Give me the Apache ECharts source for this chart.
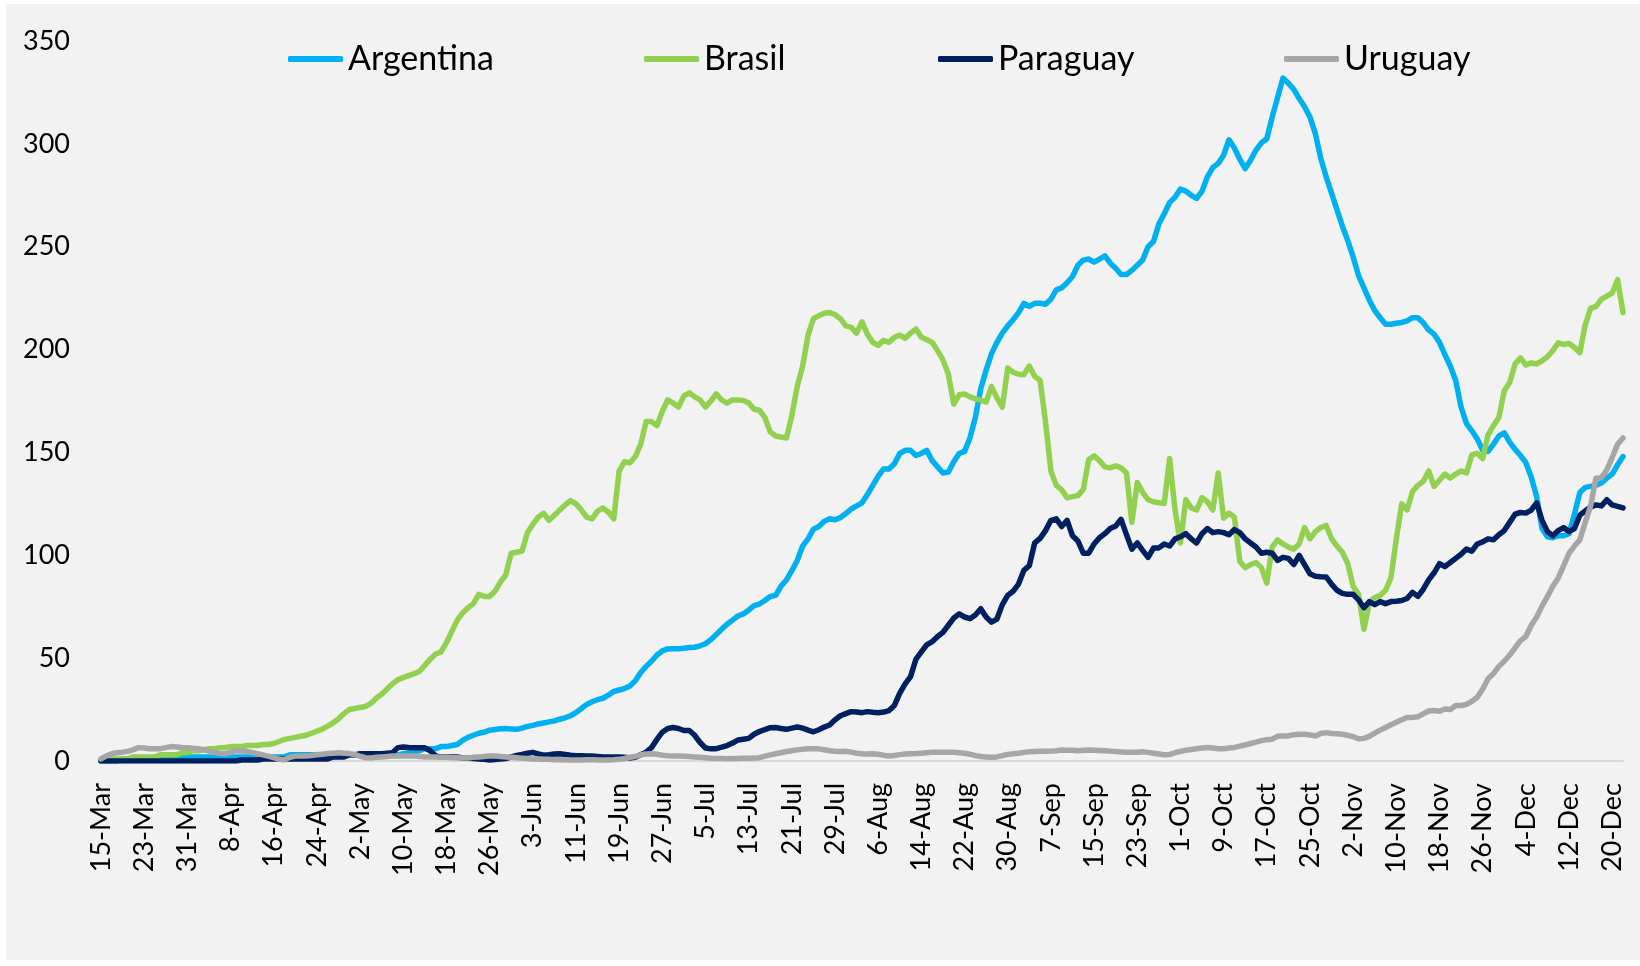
<!DOCTYPE html>
<html>
<head>
<meta charset="utf-8">
<script src="https://cdn.jsdelivr.net/npm/echarts@6/dist/echarts.min.js"></script>
<style>
  html, body { margin: 0; padding: 0; background: #ffffff; }
  #chart { width: 1640px; height: 966px; }
</style>
</head>
<body>
<div id="chart"></div>
<script>
// daily values, 15-Mar to 22-Dec
const months = ['Jan', 'Feb', 'Mar', 'Apr', 'May', 'Jun', 'Jul', 'Aug', 'Sep', 'Oct', 'Nov', 'Dec']

const argentina = [
  0, 0, 0, 0, 1, 1, 1, 1, 1, 1,
  1, 2, 2, 2, 2, 2, 2, 2, 2, 2,
  2, 2, 2, 2, 2, 2, 2, 2, 2, 2,
  2, 2, 2, 2, 2, 3, 3, 3, 3, 3,
  3, 3, 3, 3, 3, 3, 3, 3, 3, 3,
  3, 3, 3, 3, 3, 3, 3.5, 4, 4.5, 5,
  6, 6, 6, 7, 7, 7.5, 8, 10, 11.5, 12.5,
  13.5, 14, 15, 15.3, 15.7, 15.8, 15.6, 15.4, 16, 16.8,
  17.3, 18, 18.5, 19, 19.5, 20.3, 21, 22, 23.5, 25.5,
  27.5, 28.8, 29.8, 30.5, 32, 33.8, 34.5, 35.2, 36.5, 39,
  43, 46, 48.5, 51.5, 53.5, 54.5, 54.6, 54.6, 54.8, 55.2,
  55.3, 56, 57, 59, 61.5, 64, 66.5, 68.5, 70.5, 71.5,
  73.3, 75.5, 76.3, 78, 80, 80.5, 85, 88, 92.5, 97.5,
  104.5, 108, 112.7, 114, 116.5, 117.8, 117.3, 118.3, 120.3, 122.5,
  124, 125.5, 129.5, 134, 138.5, 142, 142, 144.5, 149.5, 151,
  151, 148.5, 149.5, 151, 146, 143, 140, 140.5, 145.5, 149.5,
  150.5, 157, 167, 181, 190, 198, 203.5, 208, 211.5, 214.5,
  218, 222.5, 221, 222.5, 222.5, 222, 224.5, 229, 230, 232.5,
  235.5, 241, 243.5, 244, 242.5, 244, 245.5, 242, 239.5, 236.5,
  236.5, 238.5, 241, 243.5, 250, 252.5, 261, 266, 271.5, 274,
  278, 277, 275, 273.5, 277, 284, 288.5, 290.5, 294.5, 302,
  298, 292.5, 288, 292, 297, 300.5, 302.5, 313, 322.5, 332,
  329.5, 326.5, 322, 318, 313, 305, 293, 284, 276, 268,
  260, 253, 245, 236, 230, 224, 219, 215.5, 212.3, 212.3,
  212.8, 213.2, 214, 215.5, 215.5, 213, 209.5, 207.5, 203.5, 197.5,
  192, 185, 172, 164, 160.5, 156.5, 151, 150.5, 154, 158,
  159.5, 155, 151.5, 148.5, 145, 138, 128.5, 113, 109, 108.5,
  109.5, 109.5, 110.5, 120, 130.5, 133, 133.5, 134, 135.2, 137.5,
  139.5, 144, 148
]

const brasil = [
  0, 0, 1, 1, 1, 1, 2, 2, 2, 2,
  2, 3, 3, 3, 3, 4, 4, 5, 5, 5.5,
  6, 6, 6.5, 6.5, 7, 7, 7, 7.5, 7.5, 7.5,
  8, 8, 8.5, 9.5, 10.5, 11, 11.5, 12, 12.5, 13.5,
  14.5, 15.5, 17, 18.5, 20.5, 23, 25, 25.5, 26, 26.5,
  28, 30.5, 32.5, 35, 37.5, 39.5, 40.5, 41.5, 42.5, 43.5,
  46.5, 49.5, 52, 53, 57.5, 63, 68.5, 72, 74.5, 76.5,
  81, 80, 80, 82.5, 87, 90.5, 101, 101.5, 102, 111,
  115, 118.5, 120.5, 117, 119.5, 122, 124.5, 126.6, 125, 122,
  118.5, 117.7, 121.5, 123, 121, 117.7, 141, 145.5, 145, 148,
  154, 165, 165, 163, 170, 175.5, 174, 172, 177.5, 179,
  177, 175.5, 172, 175, 178.5, 175.5, 174, 175.5, 175.5, 175.3,
  174, 171, 170.5, 167, 160, 158, 157.5, 157, 168, 182,
  192, 207, 215, 216.5, 217.7, 218, 217, 215, 211.5, 210.8,
  208, 213.5, 207.5, 203.5, 202, 204.5, 203.5, 206, 207, 205.5,
  208, 210, 206, 204.8, 203.5, 199.5, 195, 188, 173.5, 178,
  178.4, 177, 176, 175.4, 174.5, 182, 176.5, 172, 191, 189,
  188, 187.8, 192, 187, 185, 165, 141, 134, 131.8, 128,
  128.5, 129, 132, 146.5, 148.3, 146, 143, 142.5, 143.5, 142.5,
  140, 116, 135.4, 130.6, 127, 126, 125.5, 125.2, 147, 122,
  106, 127, 123, 122, 128, 126, 122, 140, 118, 120.5,
  118.5, 97, 94, 95.5, 96.5, 94, 86.5, 104, 107.5, 105.5,
  104, 103, 105.5, 113.5, 108, 111.5, 113.5, 114.5, 108, 104.5,
  101.5, 96, 85, 81, 64, 77, 79.5, 80.5, 83, 89,
  108, 125, 122, 131, 134, 136, 141, 133.5, 136.5, 139.5,
  137.5, 139.5, 141, 140, 148.8, 149.5, 147, 158.5, 163, 167,
  180, 184, 193, 196, 192.5, 193.5, 193, 194.5, 196.5, 199.5,
  203.3, 202.5, 203, 201, 198.5, 212, 220, 221, 224.5, 226,
  227.5, 234, 218
]

const paraguay = [
  0, 0, 0, 0, 0, 0, 0, 0, 0, 0,
  0, 0, 0, 0, 0, 0, 0, 0, 0, 0,
  0, 0, 0, 0, 0, 0, 0.5, 0.5, 0.5, 0.5,
  1, 1, 1, 1, 1, 1, 1, 1, 1, 1,
  1, 1, 1, 2, 2, 2, 3, 3, 3.5, 3.5,
  3.5, 3.5, 3.5, 3.8, 4, 6.5, 6.8, 6.6, 6.5, 6.5,
  6.4, 5, 2.5, 1.9, 1.9, 1.9, 1.9, 1.5, 1.3, 1.2,
  1, 0.8, 0.5, 0.7, 1, 1.2, 2, 2.7, 3.2, 3.8,
  4.2, 3.5, 2.8, 3, 3.4, 3.5, 3.2, 2.8, 2.6, 2.5,
  2.4, 2.4, 2.2, 2, 1.9, 1.9, 2, 1.8, 1.5, 1.8,
  3, 4.3, 6.5, 10.5, 14, 15.8, 16.3, 15.8, 14.8, 14.8,
  12.5, 9, 6.3, 5.9, 6, 6.7, 7.5, 8.7, 10.2, 10.6,
  11, 13, 14.3, 15.3, 16.2, 16.3, 15.8, 15.4, 16, 16.5,
  16, 15, 14.2, 15.2, 16.5, 17.5, 20, 22, 23, 24,
  23.8, 23.5, 24, 23.7, 23.5, 23.8, 24.5, 27, 33, 37.5,
  41, 49.5, 53, 56.5, 58, 60.5, 62.5, 66, 69.5, 71.5,
  70, 69.2, 71, 74, 70, 67.5, 69, 76, 80.5, 82.5,
  86, 92.7, 95, 106, 108.2, 112, 117, 117.7, 114, 117,
  109.5, 107, 101, 101, 105.5, 108.5, 110.5, 113, 114.2, 117.5,
  110, 103, 106, 102.4, 99, 103.5, 103.6, 105.5, 104.5, 108,
  109, 110.5, 108, 106, 110.5, 113, 111, 111.5, 111, 110,
  112.5, 111, 108, 106, 104, 101, 101.5, 101, 97.5, 99,
  98.5, 95.5, 100, 95.5, 91, 89.8, 89.6, 89.5, 86, 83,
  81.5, 81, 81, 78.3, 74.5, 77.5, 76, 77.5, 76.5, 77.5,
  77.7, 78, 79, 82, 80, 83.5, 88, 91.5, 96, 94.5,
  96.5, 98.5, 100.5, 103, 102, 105.5, 106.5, 108, 107.5, 110,
  112, 116, 120, 120.8, 120.5, 122, 125.5, 117, 111.5, 109.5,
  112, 113.5, 111.5, 113, 119.5, 121.5, 123.5, 124.5, 124, 127,
  124.5, 123.8, 123
]

const uruguay = [
  1, 2.5, 3.5, 4, 4.3, 4.7, 5.5, 6.5, 6.3, 6,
  6, 6, 6.5, 7, 6.8, 6.6, 6.5, 6.2, 6, 5.5,
  4.8, 4.2, 3.7, 3.5, 4.3, 5, 4.9, 4.7, 4.2, 3.5,
  3, 2.4, 1.6, 0.8, 0.6, 1.8, 2.4, 2.4, 2.4, 2.7,
  3, 3.3, 3.6, 3.8, 4, 3.8, 3.6, 3.2, 2.3, 1.6,
  1.5, 1.8, 2, 2.2, 2.4, 2.4, 2.4, 2.4, 2.4, 2.2,
  2, 2, 2, 1.8, 1.8, 1.6, 1.6, 1.5, 1.5, 1.8,
  2, 2.2, 2.4, 2.4, 2.2, 2, 1.8, 1.6, 1.4, 1.2,
  1, 1, 0.8, 0.8, 0.6, 0.6, 0.5, 0.5, 0.5, 0.5,
  0.6, 0.6, 0.5, 0.5, 0.5, 0.6, 0.8, 1.2, 1.8, 2.2,
  3, 3.4, 3.5, 3.3, 2.8, 2.5, 2.4, 2.4, 2.3, 2.2,
  2, 1.8, 1.6, 1.3, 1.2, 1.2, 1.1, 1.2, 1.2, 1.3,
  1.3, 1.4, 1.6, 2.4, 3, 3.5, 4, 4.6, 5, 5.4,
  5.7, 5.9, 6, 5.9, 5.5, 5, 4.7, 4.6, 4.7, 4.3,
  3.8, 3.5, 3.4, 3.5, 3.3, 2.8, 2.4, 2.7, 3.1, 3.4,
  3.5, 3.6, 3.8, 4, 4.2, 4.2, 4.3, 4.2, 4.2, 4,
  3.8, 3.3, 2.6, 2.2, 2, 1.8, 2, 2.6, 3.2, 3.5,
  3.8, 4.2, 4.5, 4.6, 4.7, 4.7, 4.8, 5, 5.3, 5.2,
  5.2, 5, 5.2, 5.3, 5.2, 5.1, 5, 4.8, 4.6, 4.4,
  4.2, 4.2, 4.3, 4.5, 4.2, 3.8, 3.4, 3, 3.2, 4,
  4.7, 5.2, 5.6, 6, 6.3, 6.6, 6.3, 6, 6, 6.3,
  6.6, 7.2, 7.8, 8.5, 9.2, 9.9, 10.3, 10.6, 12, 12.2,
  12.2, 12.8, 13, 13, 12.6, 12.2, 13.4, 13.8, 13.4, 13.2,
  13, 12.5, 11.8, 10.8, 11, 12, 13.5, 15, 16.3, 17.6,
  18.8, 20, 21.2, 21.2, 21.5, 23, 24.3, 24.5, 24.2, 25.3,
  25, 27, 27, 27.5, 29, 31, 35, 40, 42.5, 46,
  48.5, 51.5, 55, 58.5, 60.5, 66, 70, 75.3, 80, 85,
  89, 95, 101, 104.5, 107.5, 116, 124, 137.5, 137.7, 141.5,
  147.5, 154, 157
]

// category labels: one per day from 15 March
const days = []
for (let i = 0; i < argentina.length; i++) {
  const d = new Date(Date.UTC(2020, 2, 15 + i))
  days.push(d.getUTCDate() + '-' + months[d.getUTCMonth()])
}

const colors = {
  Argentina: '#00b0f0',
  Brasil: '#92d050',
  Paraguay: '#002060',
  Uruguay: '#a6a6a6'
}

const font = 'Lato, "Open Sans", sans-serif'

function legendAt (name, left) {
  return {
    data: [name],
    left,
    top: 42,
    padding: 0,
    icon: 'roundRect',
    itemWidth: 55,
    itemHeight: 6,
    textStyle: { fontFamily: font, fontSize: 34, color: '#000' }
  }
}

function line (name, data) {
  return {
    name,
    type: 'line',
    data,
    showSymbol: false,
    symbol: 'none',
    color: colors[name],
    lineStyle: { width: 5.5, color: colors[name], cap: 'round', join: 'round' },
    emphasis: { disabled: true }
  }
}

const chart = echarts.init(document.getElementById('chart'), null, { renderer: 'canvas' })
chart.setOption({
  animation: false,
  backgroundColor: '#ffffff',
  graphic: [{
    type: 'rect',
    z: -10,
    shape: { x: 6, y: 4, width: 1634, height: 956 },
    style: { fill: '#f2f2f2' }
  }],
  legend: [
    legendAt('Argentina', 288),
    legendAt('Brasil', 644),
    legendAt('Paraguay', 938),
    legendAt('Uruguay', 1284)
  ],
  grid: { left: 101, right: 17, top: 41, bottom: 205 },
  xAxis: {
    type: 'category',
    data: days,
    boundaryGap: false,
    axisLine: { lineStyle: { color: '#d9d9d9', width: 2 } },
    axisTick: { show: false },
    axisLabel: {
      interval: 7,
      rotate: 90,
      margin: 22,
      fontFamily: font,
      fontSize: 27,
      color: '#000'
    }
  },
  yAxis: {
    type: 'value',
    min: 0,
    max: 350,
    interval: 50,
    splitLine: { show: false },
    axisLine: { show: false },
    axisTick: { show: false },
    axisLabel: { margin: 31, fontFamily: font, fontSize: 27, color: '#000' }
  },
  series: [
    line('Argentina', argentina),
    line('Brasil', brasil),
    line('Paraguay', paraguay),
    line('Uruguay', uruguay)
  ]
})
</script>
</body>
</html>
